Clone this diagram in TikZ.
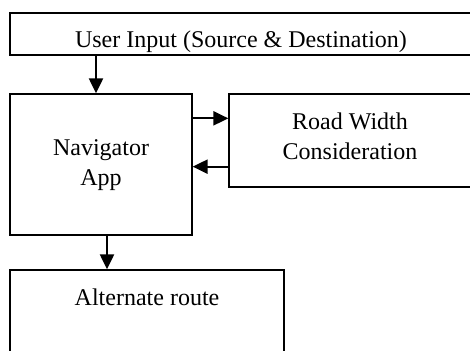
\documentclass[tikz,border=0pt]{standalone}
\usepackage{fontspec}
\setmainfont{Liberation Serif}
\usetikzlibrary{arrows.meta}
\begin{document}
\begin{tikzpicture}[x=.5pt,y=-.5pt,>={Triangle[length=7.5pt,width=7pt]},
  box/.style={draw,line width=.65pt,inner sep=0pt},
  txt/.style={align=center,font=\fontsize{12}{15}\selectfont,inner sep=0pt},
  arr/.style={->,line width=1.1pt}]
\useasboundingbox (0,0) rectangle (470,351);
\clip (0,0) rectangle (470,351);
% boxes
\node[box,minimum width=231pt,minimum height=21pt] (input) at (241,34) {};
\node[box,minimum width=91pt,minimum height=70.5pt] (nav) at (101,164.5) {};
\node[box,minimum width=121.5pt,minimum height=46.5pt] (road) at (350.5,140.5) {};
\node[box,minimum width=137pt,minimum height=45pt] (alt) at (147,315) {};
% texts
\node[txt] (inputtxt) at (241,42) {User Input (Source \& Destination)};
\node[txt] (navtxt) at (101,165) {Navigator\\App};
\node[txt] (roadtxt) at (350,136) {Road Width\\Consideration};
\node[txt] (alttxt) at (147,297) {Alternate route};
% arrows
\draw[arr] ([xshift=-2.5pt]input.south -| nav.north) -- ([xshift=-2.5pt]nav.north);
\draw[arr] ([yshift=-12.5pt]nav.north east) -- ([yshift=-12.5pt]road.north west);
\draw[arr] ([yshift=10.5pt]road.south west) -- ([yshift=10.5pt]road.south west -| nav.east);
\draw[arr] ([xshift=3pt]nav.south) -- ([xshift=3pt]nav.south |- alt.north);
\end{tikzpicture}
\end{document}
